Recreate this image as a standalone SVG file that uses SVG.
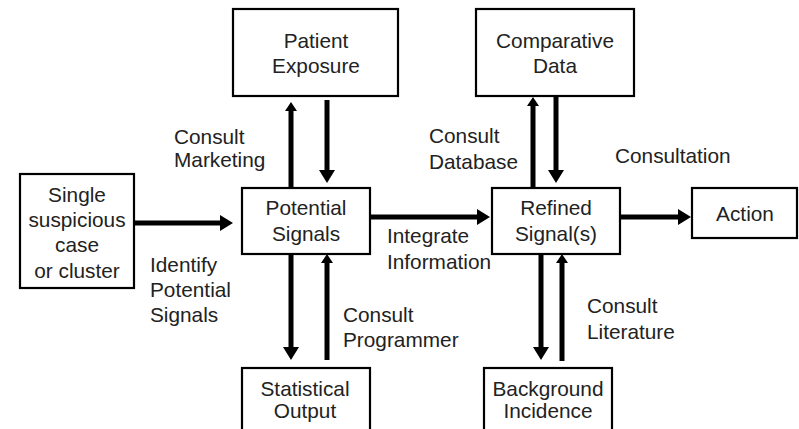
<svg xmlns="http://www.w3.org/2000/svg" width="799" height="429" viewBox="0 0 799 429">
<style>
.box{fill:#fff;stroke:#000;stroke-width:2.2}
.t{font-family:"Liberation Sans",Arial,sans-serif;font-size:20.8px;fill:#222}
.c{text-anchor:middle}
.ln{stroke:#000;stroke-width:5;fill:none}
</style>
<defs>
<marker id="big" markerUnits="userSpaceOnUse" markerWidth="14" markerHeight="16" refX="0" refY="8" orient="auto" overflow="visible">
<path d="M0,0 L13,8 L0,16 z" fill="#000"/>
</marker>
<marker id="small" markerUnits="userSpaceOnUse" markerWidth="10" markerHeight="12" refX="0" refY="6" orient="auto" overflow="visible">
<path d="M0,0 L9,6 L0,12 z" fill="#000"/>
</marker>
</defs>
<rect width="799" height="429" fill="#fff"/>
<g id="connectors">
<line class="ln" x1="134" y1="223" x2="220" y2="223" stroke-width="5.5" marker-end="url(#big)"/>
<line class="ln" x1="291" y1="188" x2="291" y2="111" marker-end="url(#small)"/>
<line class="ln" x1="327" y1="100" x2="327" y2="170" marker-end="url(#big)"/>
<line class="ln" x1="370" y1="217" x2="477" y2="217" marker-end="url(#big)"/>
<line class="ln" x1="533" y1="188" x2="533" y2="106" marker-end="url(#small)"/>
<line class="ln" x1="556" y1="96" x2="556" y2="170" marker-end="url(#big)"/>
<line class="ln" x1="620" y1="217" x2="678" y2="217" marker-end="url(#big)"/>
<line class="ln" x1="291" y1="254" x2="291" y2="347" marker-end="url(#big)"/>
<line class="ln" x1="327" y1="360" x2="327" y2="263" marker-end="url(#small)"/>
<line class="ln" x1="541" y1="254" x2="541" y2="347" marker-end="url(#big)"/>
<line class="ln" x1="562" y1="361" x2="562" y2="263" stroke-width="6.5" marker-end="url(#small)"/>
</g>
<g id="single">
<rect class="box" x="20" y="174" width="114" height="114"/>
<text class="t c" x="77" y="202">Single</text>
<text class="t c" x="77" y="227">suspicious</text>
<text class="t c" x="77" y="252">case</text>
<text class="t c" x="77" y="278">or cluster</text>
</g>
<g id="patient">
<rect class="box" x="233" y="9" width="165" height="87"/>
<text class="t c" x="316" y="48">Patient</text>
<text class="t c" x="316" y="73">Exposure</text>
</g>
<g id="potential">
<rect class="box" x="242" y="188" width="128" height="66"/>
<text class="t c" x="306" y="215">Potential</text>
<text class="t c" x="306" y="241">Signals</text>
</g>
<g id="comparative">
<rect class="box" x="476" y="9" width="158" height="87"/>
<text class="t c" x="555" y="48">Comparative</text>
<text class="t c" x="555" y="73">Data</text>
</g>
<g id="refined">
<rect class="box" x="492" y="188" width="128" height="66"/>
<text class="t c" x="556" y="215">Refined</text>
<text class="t c" x="556" y="241">Signal(s)</text>
</g>
<g id="action">
<rect class="box" x="692" y="188" width="105" height="50"/>
<text class="t c" x="745" y="221">Action</text>
</g>
<g id="statistical">
<rect class="box" x="242" y="368" width="128" height="70"/>
<text class="t c" x="305" y="396">Statistical</text>
<text class="t c" x="305" y="418">Output</text>
</g>
<g id="background">
<rect class="box" x="484" y="368" width="128" height="70"/>
<text class="t c" x="548" y="396">Background</text>
<text class="t c" x="548" y="418">Incidence</text>
</g>
<g id="labels">
<text class="t" x="174" y="144">Consult</text>
<text class="t" x="174" y="167">Marketing</text>
<text class="t" x="150" y="272">Identify</text>
<text class="t" x="150" y="297">Potential</text>
<text class="t" x="150" y="322">Signals</text>
<text class="t" x="387" y="243">Integrate</text>
<text class="t" x="387" y="269">Information</text>
<text class="t" x="429" y="143">Consult</text>
<text class="t" x="429" y="169">Database</text>
<text class="t" x="615" y="163">Consultation</text>
<text class="t" x="343" y="322">Consult</text>
<text class="t" x="343" y="347">Programmer</text>
<text class="t" x="587" y="313">Consult</text>
<text class="t" x="587" y="339">Literature</text>
</g>
</svg>
